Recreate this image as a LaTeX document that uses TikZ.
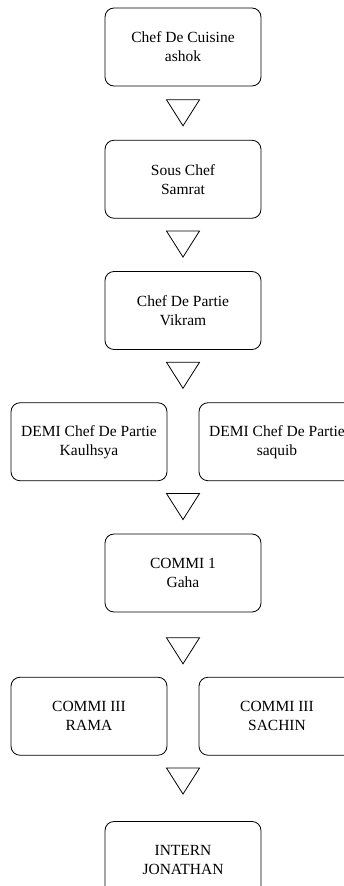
\documentclass[tikz,border=0pt]{standalone}
\usepackage{fontspec}
\setmainfont{Liberation Serif}
\usetikzlibrary{positioning,shapes.geometric}

\begin{document}
\begin{tikzpicture}[every node/.style={align=center,draw,line width=0.8pt},
  box/.style={rounded corners=9pt,minimum width=156pt,minimum height=78pt,
    font=\fontsize{15.5}{19}\selectfont},
  tri/.style={isosceles triangle,isosceles triangle stretches,
    shape border rotate=-90,minimum width=33pt,minimum height=26pt,inner sep=0pt}]
\useasboundingbox (0,0) rectangle (344pt,-886pt);
\node [box] (chef) at (183pt,-47pt) {Chef De Cuisine\\ashok};
\node [tri,below=13pt of chef] (t1) {};
\node [box,below=13pt of t1] (sous) {Sous Chef\\Samrat};
\node [tri,below=12pt of sous] (t2) {};
\node [box,below=13pt of t2] (partie) {Chef De Partie\\Vikram};
\node [tri,below=12pt of partie] (t3) {};
\node [box,below=13pt of t3,xshift=-94pt] (demia) {DEMI Chef De Partie\\Kaulhsya};
\node [box,below=13pt of t3,xshift=94pt] (demib) {DEMI Chef De Partie\\saquib};
\coordinate (c4) at (demia.south -| t3.south);
\node [tri,below=12pt of c4] (t4) {};
\node [box,below=13pt of t4] (commi) {COMMI 1\\Gaha};
\node [tri,below=25pt of commi] (t5) {};
\node [box,below=12pt of t5,xshift=-94pt] (commia) {COMMI III\\RAMA};
\node [box,below=12pt of t5,xshift=94pt] (commib) {COMMI III\\SACHIN};
\coordinate (c6) at (commia.south -| t5.south);
\node [tri,below=12pt of c6] (t6) {};
\node [box,below=26pt of t6] (intern) {INTERN\\JONATHAN};
\end{tikzpicture}
\end{document}
